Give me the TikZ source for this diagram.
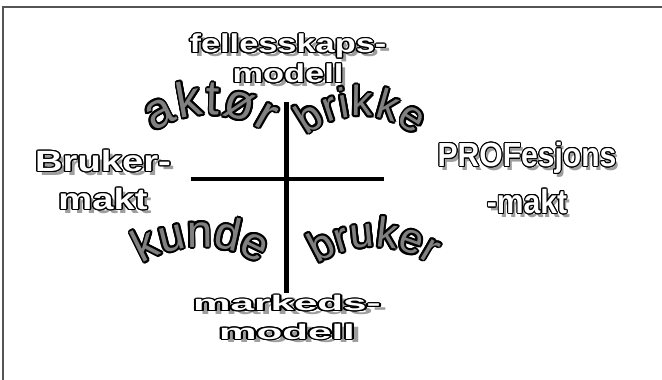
\documentclass[tikz,border=0pt]{standalone}
\usepackage{fontspec}
\setmainfont{Liberation Sans}
\usepackage{contour}
\usetikzlibrary{decorations.text}
\contourlength{0.6pt}
\definecolor{shadowgray}{gray}{0.62}
\definecolor{archgray}{gray}{0.5}
\definecolor{framegray}{gray}{0.33}
% outlined word with a soft shadow
\newcommand\wordart[1]{\rlap{\smash{\raisebox{-2.2pt}{\hspace{1.8pt}\textcolor{shadowgray}{#1}}}}{\color{white}\contour{black}{#1}}}
\newcommand\archchar[1]{\contourlength{1.1pt}\contour{black}{#1}}
\tikzset{flat/.style={inner sep=0pt,align=center,font=\bfseries},
  crossbar/.style={line width=2.8pt},
  archword/.style={decorate,decoration={text effects along path,text={#1},
    text effects/.cd,text along path,fit text to path,
    characters={text=archgray},character command=\archchar}}}

\begin{document}
\begin{tikzpicture}
\useasboundingbox (0,0) rectangle (13.24,7.6);
\draw[framegray,line width=1.1pt] (0.06,0) -- (0.06,7.46) -- (13.24,7.46);
% the cross
\coordinate (vtop) at (5.73,5.55);
\coordinate (vbot) at (5.73,1.74);
\coordinate (hleft) at (3.81,4.02);
\coordinate (hright) at (7.67,4.02);
\draw[crossbar] (vtop) -- (vbot);
\draw[crossbar] (hleft) -- (hright);
% the four corners
\node[flat,xscale=1.33,font=\bfseries\fontsize{14.7}{17}\selectfont] (felles) at (5.76,6.42) {\wordart{fellesskaps-}\\\wordart{modell}};
\node[flat,xscale=2,font=\bfseries\fontsize{12}{16}\selectfont] (marked) at (5.74,1.24) {\wordart{markeds-}\\\wordart{modell}};
\node[flat,xscale=1.3,font=\bfseries\fontsize{16.7}{21.6}\selectfont] (brmakt) at (2.06,3.99) {\wordart{Bruker-}\\\wordart{makt}};
\node[flat,xscale=0.9,font=\bfseries\fontsize{19}{26.7}\selectfont] (profmakt) at (10.54,4.03) {\wordart{PROFesjons}\\\wordart{-makt}};
% arched words
\coordinate (aktc) at (4.20,3.30);
\coordinate (brkc) at (7.22,3.58);
\coordinate (kunc) at (4.02,0.46);
\coordinate (bruc) at (7.48,0.66);
\path[archword={aktør},font=\fontsize{28}{28}\selectfont] (aktc) ++(124.4:2.0) arc[start angle=124.4,end angle=55.6,radius=2.0];
\path[archword={brikke},font=\fontsize{24}{24}\selectfont] (brkc) ++(129.8:1.7) arc[start angle=129.8,end angle=50.2,radius=1.7];
\path[archword={kunde},font=\fontsize{26}{26}\selectfont] (kunc) ++(122.3:2.2) arc[start angle=122.3,end angle=57.7,radius=2.2];
\path[archword={bruker},font=\fontsize{24}{24}\selectfont] (bruc) ++(124.2:2.0) arc[start angle=124.2,end angle=55.8,radius=2.0];
\end{tikzpicture}
\end{document}
